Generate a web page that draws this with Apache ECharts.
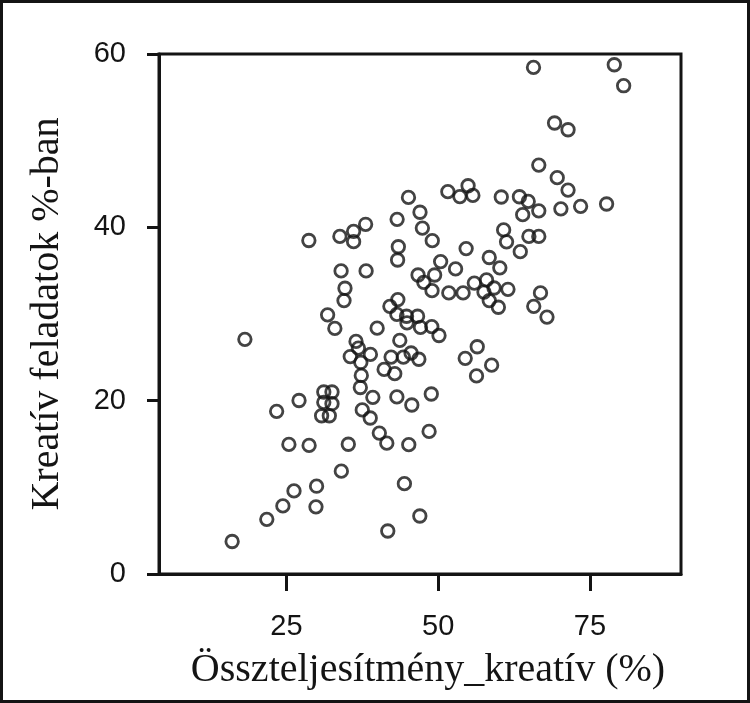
<!DOCTYPE html>
<html><head><meta charset="utf-8">
<script src="https://cdn.jsdelivr.net/npm/echarts@6.0.0/dist/echarts.min.js"></script>
<style>html,body{margin:0;padding:0;background:#fff}#chart{width:750px;height:703px}</style>
</head><body><div id="chart"></div>
<script>
const xValues = [16.05,18.15,21.76,23.38,24.41,25.40,26.24,27.07,28.69,28.73,29.86,29.96,30.79,31.15,31.78,31.15,32.06,32.5,32.5,32.97,
33.80,34.04,34.0,34.64,34.48,35.19,35.51,36.06,36.06,36.46,36.85,37.25,37.33,37.17,37.49,38.04,38.12,38.80,38.83,39.23,
39.94,40.30,41.09,41.53,41.69,42.04,42.24,42.84,43.23,43.19,43.31,43.43,43.35,43.19,43.67,44.26,44.43,45.10,44.78,44.86,
45.15,45.53,45.65,46.60,46.81,46.97,46.68,47.0,47.39,47.63,47.08,48.50,49.02,48.98,48.94,48.86,49.41,50.13,50.40,51.59,
51.75,52.86,53.57,54.10,54.45,54.60,54.92,55.71,55.95,56.31,56.43,57.54,57.96,58.41,58.41,58.80,59.20,59.91,60.15,60.39,
60.78,61.26,61.49,63.38,63.52,63.92,64.83,64.94,65.70,65.74,66.57,66.57,66.57,66.85,67.92,69.17,69.61,70.21,71.39,71.39,
73.46,77.74,79.01,80.55];
const yValues = [3.75,27.08,6.31,18.77,7.86,14.95,9.59,20.02,38.48,14.84,7.75,10.13,18.26,21.0,29.9,19.81,18.26,21.0,19.65,28.34,
38.95,11.87,34.97,32.97,31.55,14.97,25.09,39.54,38.35,26.84,26.07,24.41,22.91,21.52,18.93,40.35,34.97,18.0,25.34,20.38,
28.37,16.26,23.61,15.10,4.96,30.88,25.03,23.12,40.92,20.43,36.23,37.76,31.66,29.95,26.95,25.03,10.42,43.45,29.74,28.97,
14.92,25.5,19.50,29.74,24.78,6.69,34.50,41.74,39.91,33.65,28.45,16.45,38.46,32.69,28.55,20.77,34.50,27.52,36.05,44.12,
32.43,35.2,43.55,32.43,24.88,37.55,44.80,43.68,33.57,22.86,26.22,32.53,33.93,36.52,31.55,24.10,33.0,30.78,35.33,43.50,
39.70,38.33,32.85,43.53,37.19,41.46,42.99,38.95,58.45,30.88,47.18,41.90,38.95,32.43,29.64,52.04,45.73,42.13,51.26,44.30,
42.42,42.69,58.76,56.34];
const xTickValues = [25, 50, 75];
const yTickValues = [0, 20, 40, 60];
const xTitle = 'Összteljesítmény_kreatív (%)';
const yTitle = 'Kreatív feladatok %-ban';

const points = xValues.map((x, i) => [x, yValues[i]]);
const ink = '#141414';
const tickFont = "'Liberation Sans', Arial, sans-serif";
const chart = echarts.init(document.getElementById('chart'), null, {renderer: 'canvas'});
chart.setOption({
  animation: false,
  backgroundColor: '#ffffff',
  grid: {left: 159, right: 69, top: 54, bottom: 129, show: true, borderColor: ink, borderWidth: 3, backgroundColor: 'transparent', outerBoundsMode: 'none', containLabel: false},
  xAxis: {
    type: 'value', min: 4, max: 90,
    name: xTitle, nameLocation: 'middle', nameGap: 76,
    nameTextStyle: {fontFamily: 'Liberation Serif', fontSize: 40, color: ink, padding: [0, 0, 0, 16]},
    axisLine: {show: true, onZero: false, lineStyle: {color: ink, width: 3}},
    axisTick: {show: true, length: 17, lineStyle: {color: ink, width: 3}, customValues: xTickValues},
    axisLabel: {fontFamily: tickFont, fontSize: 29, color: ink, margin: 38, customValues: xTickValues},
    splitLine: {show: false}
  },
  yAxis: {
    type: 'value', min: 0, max: 60,
    name: yTitle, nameLocation: 'middle', nameGap: 92, nameRotate: 90,
    nameTextStyle: {fontFamily: 'Liberation Serif', fontSize: 40, color: ink},
    axisLine: {show: true, onZero: false, lineStyle: {color: ink, width: 3}},
    axisTick: {show: true, length: 12, lineStyle: {color: ink, width: 3}, customValues: yTickValues},
    axisLabel: {fontFamily: tickFont, fontSize: 29, color: ink, margin: 33, customValues: yTickValues},
    splitLine: {show: false}
  },
  graphic: [{type: 'rect', shape: {x: 1.5, y: 1.5, width: 747, height: 700}, style: {fill: 'none', stroke: ink, lineWidth: 3}, silent: true}],
  series: [{
    type: 'scatter', data: points, symbol: 'circle', symbolSize: 12.5,
    itemStyle: {color: 'rgba(0,0,0,0)', borderColor: ink, borderWidth: 2.8}
  }]
});
</script></body></html>
